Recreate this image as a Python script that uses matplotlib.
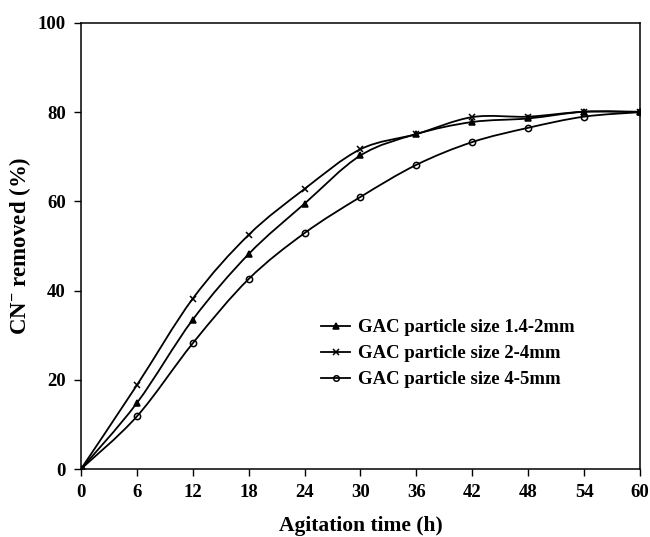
import numpy as np
import matplotlib.pyplot as plt
from matplotlib.path import Path
from matplotlib.patches import PathPatch
from matplotlib.lines import Line2D

plt.rcParams['font.family'] = ['Liberation Serif', 'DejaVu Serif']
plt.rcParams['font.weight'] = 'bold'
plt.rcParams['mathtext.fontset'] = 'custom'
plt.rcParams['mathtext.rm'] = 'Liberation Serif:bold'
plt.rcParams['mathtext.bf'] = 'Liberation Serif:bold'
plt.rcParams['mathtext.default'] = 'bf'

# --- data ---
time_h = [0, 6, 12, 18, 24, 30, 36, 42, 48, 54, 60]
gac_14_2 = [0, 14.8, 33.5, 48.2, 59.5, 70.3, 75.1, 77.8, 78.6, 80.1, 80.1]
gac_2_4 = [0, 18.8, 38.2, 52.5, 62.8, 71.7, 75.1, 78.9, 79.0, 80.1, 80.0]
gac_4_5 = [0, 11.8, 28.2, 42.6, 52.9, 61.0, 68.2, 73.3, 76.5, 79.0, 80.0]
labels = ['GAC particle size 1.4-2mm', 'GAC particle size 2-4mm', 'GAC particle size 4-5mm']
markers = ['^', 'x', 'o']


def smooth_path(x, y, t=1/6):
    # catmull-rom style bezier through the points (like a "smoothed line")
    x = np.asarray(x, float)
    y = np.asarray(y, float)
    pts = np.column_stack([x, y])
    verts = [pts[0]]
    codes = [Path.MOVETO]
    n = len(pts)
    for i in range(n - 1):
        p0 = pts[i - 1] if i > 0 else pts[i]
        p1 = pts[i]
        p2 = pts[i + 1]
        p3 = pts[i + 2] if i + 2 < n else pts[i + 1]
        c1 = p1 + (p2 - p0) * t
        c2 = p2 - (p3 - p1) * t
        verts += [c1, c2, p2]
        codes += [Path.CURVE4] * 3
    return Path(verts, codes)


fig = plt.figure(figsize=(6.5, 5.37), dpi=100)
ax = fig.add_axes([0.1246, 0.1266, 0.86, 0.8306])

handles = []
for ys, m, lab in zip([gac_14_2, gac_2_4, gac_4_5], markers, labels):
    ax.add_patch(PathPatch(smooth_path(time_h, ys), facecolor='none',
                           edgecolor='black', lw=1.3, zorder=2))
    mfc = 'none' if m == 'o' else 'black'
    ax.plot(time_h, ys, linestyle='none', marker=m, color='black',
            markersize=4.5 if m != 'x' else 5, mfc=mfc, mew=1.1, zorder=3)
    handles.append(Line2D([], [], color='black', lw=1.3, marker=m,
                          markersize=4, mfc=mfc, mew=1.1, label=lab))

ax.set_xlim(0, 60)
ax.set_ylim(0, 100)
ax.set_xticks(time_h)
ax.set_yticks([0, 20, 40, 60, 80, 100])
ax.tick_params(direction='out', length=5, width=1, labelsize=13.5, pad=6,
               top=False, right=False)
for s in ax.spines.values():
    s.set_linewidth(1.1)

ax.set_xlabel('Agitation time (h)', fontsize=15.5, fontweight='bold')
ax.xaxis.set_label_coords(0.5, -0.106)
ax.set_ylabel('CN$^{-}$ removed (%)', fontsize=16.5, fontweight='bold')
ax.yaxis.set_label_coords(-0.085, 0.5)

ax.legend(handles=handles, loc='upper left', bbox_to_anchor=(0.4, 0.374),
          frameon=False, handlelength=1.5, handletextpad=0.45,
          labelspacing=0.47, prop={'weight': 'bold', 'size': 13.5})

fig.savefig('out.png', dpi=100)
